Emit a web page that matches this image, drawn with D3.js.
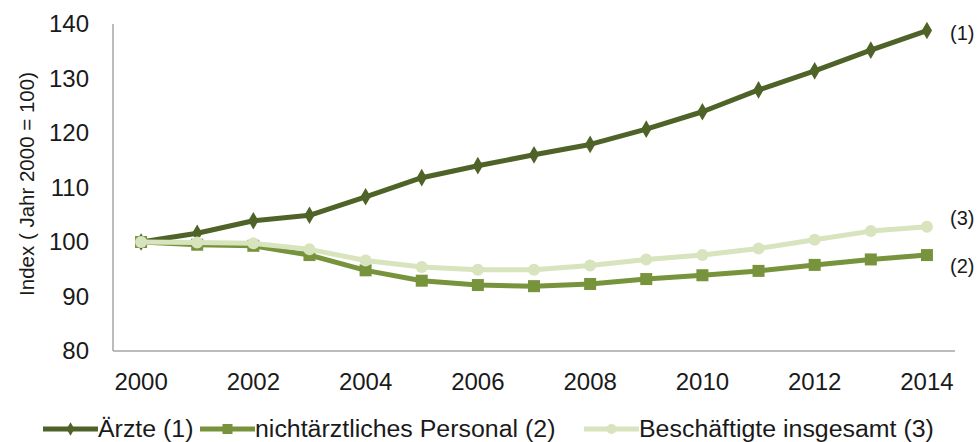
<!DOCTYPE html>
<meta charset="utf-8">
<style>
body { margin: 0; background: #fff; }
text { font-family: "Liberation Sans", Arial, sans-serif; fill: #1a1a1a; }
.axis text { font-size: 24px; }
.legend text { font-size: 23.5px; }
</style>
<svg width="979" height="442"></svg>
<script src="https://d3js.org/d3.v7.min.js"></script>
<script>
var years = [2000, 2001, 2002, 2003, 2004, 2005, 2006, 2007, 2008, 2009, 2010, 2011, 2012, 2013, 2014];
var aerzte = [100, 101.6, 103.9, 104.9, 108.3, 111.8, 114.0, 116.0, 117.9, 120.7, 123.9, 127.9, 131.4, 135.2, 138.8];
var personal = [100, 99.5, 99.3, 97.6, 94.8, 92.9, 92.1, 91.9, 92.3, 93.2, 93.9, 94.7, 95.8, 96.8, 97.6];
var gesamt = [100, 99.9, 99.75, 98.65, 96.6, 95.4, 94.9, 94.9, 95.7, 96.8, 97.6, 98.8, 100.4, 102.0, 102.8];
var yTicks = [80, 90, 100, 110, 120, 130, 140];
var xTickYears = [2000, 2002, 2004, 2006, 2008, 2010, 2012, 2014];

var series = [
  {name: "Ärzte (1)", tag: "(1)", values: aerzte, color: "#4f6228", marker: "diamond", dy: 2},
  {name: "nichtärztliches Personal (2)", tag: "(2)", values: personal, color: "#77933c", marker: "square", dy: 11},
  {name: "Beschäftigte insgesamt (3)", tag: "(3)", values: gesamt, color: "#d7e4bd", marker: "circle", dy: -9}
];

var svg = d3.select("svg");
var x = d3.scaleBand().domain(years).range([113, 955]);
var y = d3.scaleLinear().domain([80, 140]).range([351, 24]);
var cx = function(yr) { return x(yr) + x.bandwidth() / 2; };

// axes
svg.append("g").attr("class", "axis")
    .attr("transform", "translate(113,0)")
    .call(d3.axisLeft(y).tickValues(yTicks).tickSize(0).tickPadding(24))
    .call(function(g) { g.select(".domain").remove(); });

svg.append("g").attr("class", "axis")
    .attr("transform", "translate(0,351)")
    .call(d3.axisBottom(x).tickValues(xTickYears).tickSize(0).tickPadding(22))
    .call(function(g) { g.select(".domain").remove(); });

svg.selectAll(".axis text").attr("fill", "#1a1a1a");

svg.append("line").attr("x1", 113).attr("x2", 113).attr("y1", 24).attr("y2", 351)
    .attr("stroke", "#a6a6a6").attr("stroke-width", 1.5);
svg.append("line").attr("x1", 113).attr("x2", 955).attr("y1", 351).attr("y2", 351)
    .attr("stroke", "#a6a6a6").attr("stroke-width", 1.5);

svg.append("text")
    .attr("transform", "translate(34,184) rotate(-90)")
    .attr("text-anchor", "middle")
    .style("font-size", "20.5px")
    .attr("fill", "#404040")
    .text("Index ( Jahr 2000 = 100)");

function drawMarker(g, type, px, py, color, size) {
  if (type === "diamond") {
    g.append("path").attr("d", d3.symbol(d3.symbolDiamond, size * 6)())
      .attr("transform", "translate(" + px + "," + py + ")").attr("fill", color);
  } else if (type === "square") {
    g.append("rect").attr("x", px - size / 2).attr("y", py - size / 2)
      .attr("width", size).attr("height", size).attr("fill", color);
  } else {
    g.append("circle").attr("cx", px).attr("cy", py).attr("r", size / 2).attr("fill", color);
  }
}
var markerSize = {diamond: 15, square: 12, circle: 12};

var line = d3.line().x(function(d, i) { return cx(years[i]); }).y(function(d) { return y(d); });

series.forEach(function(s) {
  var g = svg.append("g");
  g.append("path").datum(s.values).attr("d", line)
    .attr("fill", "none").attr("stroke", s.color).attr("stroke-width", 5)
    .attr("stroke-linejoin", "round");
  s.values.forEach(function(v, i) {
    drawMarker(g, s.marker, cx(years[i]), y(v), s.color, markerSize[s.marker]);
  });
  svg.append("text")
    .attr("x", 950).attr("y", y(s.values[s.values.length - 1]) + s.dy)
    .attr("dy", "0.35em")
    .style("font-size", "20px")
    .text(s.tag);
});

// legend
var legendX = [43, 200, 584];
var leg = svg.append("g").attr("class", "legend");
series.forEach(function(s, i) {
  var lx = legendX[i];
  leg.append("line").attr("x1", lx).attr("x2", lx + 55).attr("y1", 429).attr("y2", 429)
    .attr("stroke", s.color).attr("stroke-width", 5);
  drawMarker(leg, s.marker, lx + 27.5, 429, s.color, s.marker === "diamond" ? 9 : 10);
  var t = leg.append("text").attr("x", lx + 55).attr("y", 429).attr("dy", "0.35em").text(s.name);
  // reference legend text is slightly wider than plain Arial metrics
  var w = t.node().getComputedTextLength();
  t.attr("textLength", w * 1.06).attr("lengthAdjust", "spacingAndGlyphs");
});
</script>
